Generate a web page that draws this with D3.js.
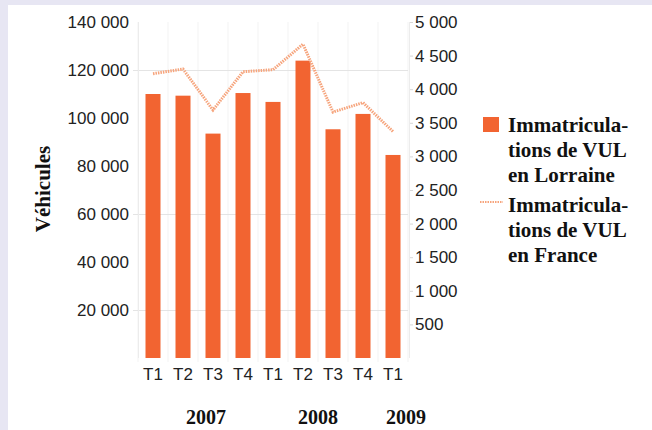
<!DOCTYPE html>
<html><head><meta charset="utf-8">
<script src="https://cdn.jsdelivr.net/npm/d3@7"></script>
<style>html,body{margin:0;padding:0;background:#e7e6f3;}svg{display:block;}</style>
</head><body>
<svg id="c" width="652" height="430"></svg>
<script>
const quarters = ["T1","T2","T3","T4","T1","T2","T3","T4","T1"];
const years = ["2007","2007","2007","2007","2008","2008","2008","2008","2009"];
const lorraine = [110000, 109300, 93500, 110400, 106700, 123900, 95300, 101700, 84600];
const france = [4230, 4300, 3690, 4260, 4290, 4670, 3660, 3800, 3370];
const leftTicks = [20000, 40000, 60000, 80000, 100000, 120000, 140000];
const leftGrid = [20000, 60000, 120000];
const rightTicks = [500, 1000, 1500, 2000, 2500, 3000, 3500, 4000, 4500, 5000];
const yearLabels = ["2007", "2008", "2009"];
const legendLorraine = ["Immatricula-", "tions de VUL", "en Lorraine"];
const legendFrance = ["Immatricula-", "tions de VUL", "en France"];
const yTitle = "Véhicules";

const svg = d3.select("#c");
const W = 652, H = 430;
svg.append("rect").attr("x", 8).attr("y", 5).attr("width", W - 8).attr("height", H - 5).attr("fill", "#fff");

const L = 138, R = 408, T = 22, B = 358;
const x = d3.scaleBand().domain(d3.range(quarters.length)).range([L, R]).paddingInner(0.5).paddingOuter(0.25);
const yL = d3.scaleLinear().domain([0, 140000]).range([B, T]);
const yR = d3.scaleLinear().domain([0, 5000]).range([B, T]);
const fmt = v => d3.format(",")(v).replace(/,/g, " ");

// faint vertical band separators
svg.append("g").selectAll("line").data(d3.range(quarters.length + 1)).join("line")
  .attr("x1", i => L + i * x.step()).attr("x2", i => L + i * x.step())
  .attr("y1", T).attr("y2", B + 4).attr("stroke", "#f3f3f3").attr("stroke-width", 1);

// gridlines
svg.append("g").selectAll("line").data(leftGrid).join("line")
  .attr("x1", L - 5).attr("x2", R).attr("y1", d => Math.round(yL(d)) + 0.5).attr("y2", d => Math.round(yL(d)) + 0.5)
  .attr("stroke", "#e4e4e4").attr("stroke-width", 1);

// axis lines
svg.append("line").attr("x1", L + 0.5).attr("x2", L + 0.5).attr("y1", T).attr("y2", B).attr("stroke", "#ececec");
svg.append("line").attr("x1", R + 1.5).attr("x2", R + 1.5).attr("y1", T).attr("y2", B).attr("stroke", "#ececec");

// left axis
const gl = svg.append("g").attr("transform", `translate(${L - 9},0)`)
  .call(d3.axisLeft(yL).tickValues(leftTicks).tickFormat(fmt).tickSize(0).tickPadding(0));
gl.select(".domain").remove();
gl.selectAll("text").attr("font-family", "Liberation Sans, Arial, sans-serif").attr("font-size", 17).attr("fill", "#222");

// right axis
const gr = svg.append("g").attr("transform", `translate(${R + 2},0)`)
  .call(d3.axisRight(yR).tickValues(rightTicks).tickFormat(fmt).tickSize(3).tickPadding(2));
gr.select(".domain").remove();
gr.selectAll("line").attr("stroke", "#d8d8d8");
gr.selectAll("text").attr("font-family", "Liberation Sans, Arial, sans-serif").attr("font-size", 17).attr("fill", "#222");

// bars
svg.append("g").selectAll("rect").data(lorraine).join("rect")
  .attr("x", (d, i) => x(i)).attr("width", x.bandwidth())
  .attr("y", d => yL(d)).attr("height", d => B - yL(d))
  .attr("fill", "#f26431");

// line
const line = d3.line().x((d, i) => x(i) + x.bandwidth() / 2).y(d => yR(d));
svg.append("path").datum(france).attr("d", line).attr("fill", "none")
  .attr("stroke", "#f6a47c").attr("stroke-width", 3).attr("stroke-dasharray", "1.5,1");

// x axis labels
const gx = svg.append("g").attr("transform", `translate(0,${B})`)
  .call(d3.axisBottom(x).tickFormat(i => quarters[i]).tickSize(0).tickPadding(10));
gx.select(".domain").remove();
gx.selectAll("text").attr("font-family", "Liberation Sans, Arial, sans-serif").attr("font-size", 17).attr("fill", "#222");

// year labels
const yearDx = [8, 0, 13];
yearLabels.forEach((yr, k) => {
  const idx = d3.range(years.length).filter(i => years[i] === yr);
  const cx = d3.mean(idx, i => x(i) + x.bandwidth() / 2) + yearDx[k];
  svg.append("text").attr("x", cx).attr("y", 424).attr("text-anchor", "middle")
    .attr("font-family", "Liberation Serif, Times New Roman, serif").attr("font-weight", "bold")
    .attr("font-size", 20).attr("fill", "#111").text(yr);
});

// y title
svg.append("text").attr("transform", "translate(50,189) rotate(-90)").attr("text-anchor", "middle")
  .attr("font-family", "Liberation Serif, Times New Roman, serif").attr("font-weight", "bold")
  .attr("font-size", 21).attr("fill", "#111").text(yTitle);

// legend
const lg = svg.append("g");
lg.append("rect").attr("x", 483).attr("y", 117).attr("width", 16).attr("height", 15).attr("fill", "#f26431");
lg.append("line").attr("x1", 480).attr("x2", 503).attr("y1", 202).attr("y2", 202)
  .attr("stroke", "#f6a47c").attr("stroke-width", 2).attr("stroke-dasharray", "1.5,1");
const ltext = (lines, y0) => lines.forEach((t, i) => lg.append("text").attr("x", 508).attr("y", y0 + i * 25)
  .attr("font-family", "Liberation Serif, Times New Roman, serif").attr("font-weight", "bold")
  .attr("font-size", 21).attr("fill", "#111").text(t));
ltext(legendLorraine, 132);
ltext(legendFrance, 212);
</script>
</body></html>
